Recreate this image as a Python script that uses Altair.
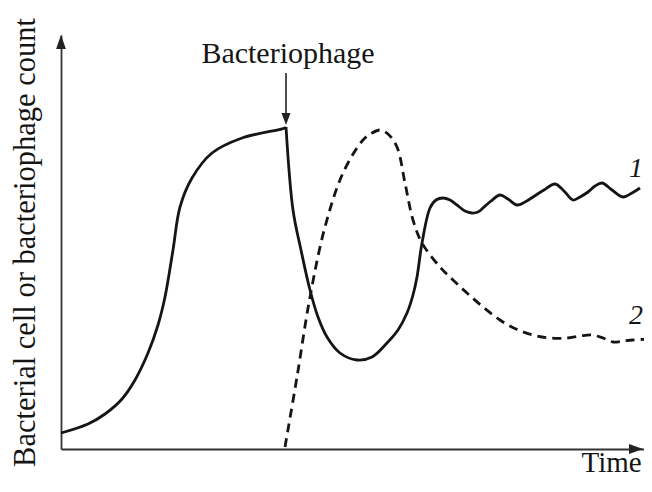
import altair as alt
import pandas as pd

# ---- data (time and count in arbitrary units) ----
# curve 1: bacterial cells, growth phase (up to phage addition)
growth_time = [0, 27, 44, 61, 74, 87, 97, 104, 112, 119, 131, 151, 181, 224, 225]
growth_count = [16, 25, 35, 50, 69, 96, 124, 152, 199, 242, 271, 296, 311, 321, 322]
# curve 1: bacterial cells after phage addition
lysis_time = [225, 232, 240, 249, 257, 266, 279, 296, 311, 326, 337, 346, 352, 356, 361,
              369, 375, 382, 389, 396, 404, 411, 417, 422, 430, 439, 447, 456, 464, 472,
              483, 494, 503, 512, 519, 527, 534, 541, 551, 562, 571, 579]
lysis_count = [322, 239, 199, 159, 132, 112, 96, 89, 92, 106, 119, 136, 154, 172, 206,
               241, 249, 251, 249, 244, 238, 236, 237, 241, 248, 254, 250, 244, 247, 252,
               259, 265, 258, 249, 252, 257, 263, 266, 259, 252, 256, 261]

# curve 2: bacteriophage
phage_time = [224, 236, 249, 264, 282, 302, 311, 319, 327, 336, 344, 352, 361, 379, 392,
              406, 422, 439, 455, 472, 489, 506, 519, 531, 542, 552, 562, 572, 589]
phage_count = [2, 72, 152, 222, 276, 309, 316, 319, 315, 302, 266, 229, 206, 182, 169,
               156, 142, 129, 120, 114, 111, 111, 113, 114, 111, 107, 108, 109, 110]

series_labels = ["1", "2"]
y_title = "Bacterial cell or bacteriophage count"
x_title = "Time"
phage_note = "Bacteriophage"

X_MAX = 583
Y_MAX = 414
FONT = "Liberation Serif"
INK = "#151515"

bact = pd.concat([
    pd.DataFrame({"t": growth_time, "c": growth_count, "seg": "growth"}),
    pd.DataFrame({"t": lysis_time, "c": lysis_count, "seg": "lysis"}),
], ignore_index=True)
phage = pd.DataFrame({"t": phage_time, "c": phage_count})

xs = alt.Scale(domain=[0, X_MAX], nice=False, zero=False)
ys = alt.Scale(domain=[0, Y_MAX], nice=False, zero=False)

x_axis = alt.Axis(
    domain=True, domainColor="#333333", domainWidth=1.8, ticks=False, labels=False,
    grid=False, title=x_title, titleFont=FONT, titleFontSize=29, titleFontWeight="normal",
    titleColor=INK, titleAlign="left", titleBaseline="alphabetic", titleAngle=0,
    titleX=520, titleY=22,
)
y_axis = alt.Axis(
    domain=True, domainColor="#333333", domainWidth=1.8, ticks=False, labels=False,
    grid=False, title=y_title, titleFont=FONT, titleFontSize=30.5, titleFontWeight="normal",
    titleColor=INK, titleAlign="center", titleBaseline="alphabetic", titleAngle=270,
    titleX=-27, titleY=207,
)

X = alt.X("t:Q", scale=xs, axis=x_axis)
Y = alt.Y("c:Q", scale=ys, axis=y_axis)

line1 = alt.Chart(bact).mark_line(
    color=INK, strokeWidth=2.8, interpolate="catmull-rom"
).encode(x=X, y=Y, detail="seg:N")

line2 = alt.Chart(phage).mark_line(
    color=INK, strokeWidth=2.8, strokeDash=[9, 6], interpolate="catmull-rom"
).encode(x=X, y=Y)

# axis arrowheads
arrow_up = alt.Chart(pd.DataFrame({"t": [0], "c": [Y_MAX]})).mark_point(
    shape="M0,0 L-0.7,2 L0.7,2 Z", size=196, filled=True, color="#222222", opacity=1
).encode(x=X, y=Y)
arrow_right = alt.Chart(pd.DataFrame({"t": [X_MAX - 1], "c": [0]})).mark_point(
    shape="M0,0 L-2,-0.7 L-2,0.7 Z", size=196, filled=True, color="#222222", opacity=1
).encode(x=X, y=Y)

# bacteriophage annotation
note_text = alt.Chart(pd.DataFrame({"t": [227], "c": [386], "label": [phage_note]})).mark_text(
    font=FONT, fontSize=30, color=INK, align="center", baseline="alphabetic"
).encode(x=X, y=Y, text="label:N")
note_rule = alt.Chart(pd.DataFrame({"t": [225], "c": [376], "c2": [334]})).mark_rule(
    color="#222222", strokeWidth=1.6
).encode(x=X, y=Y, y2="c2:Q")
note_head = alt.Chart(pd.DataFrame({"t": [225], "c": [324]})).mark_point(
    shape="M0,0 L-0.75,-2 L0.75,-2 Z", size=144, filled=True, color="#222222", opacity=1
).encode(x=X, y=Y)

# curve labels
labels = alt.Chart(pd.DataFrame({"t": [568, 568], "c": [272, 125], "label": series_labels})).mark_text(
    font=FONT, fontSize=28, fontStyle="italic", color=INK, align="left", baseline="alphabetic"
).encode(x=X, y=Y, text="label:N")

chart = alt.layer(
    line1, line2, arrow_up, arrow_right, note_rule, note_head, note_text, labels
).properties(
    width=X_MAX, height=Y_MAX,
    autosize=alt.AutoSizeParams(type="none"),
    padding={"left": 53, "top": 27, "right": 0, "bottom": 27},
    background="white",
).configure_view(stroke=None)

chart.save("out.html", embed_options={"renderer": "svg", "actions": False})
